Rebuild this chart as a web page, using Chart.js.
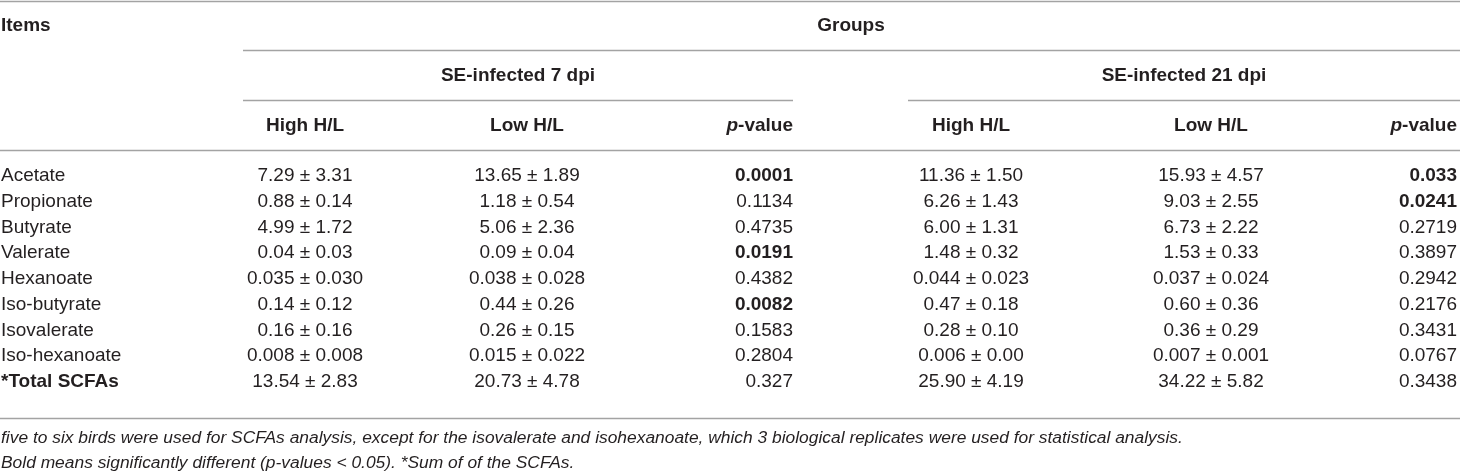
<!DOCTYPE html>
<html>
<head>
<meta charset="utf-8">
<script src="https://cdn.jsdelivr.net/npm/chart.js@4.4.1/dist/chart.umd.min.js"></script>
<style>
  html, body { margin: 0; padding: 0; background: #fff; }
  #wrap { width: 1460px; height: 476px; }
</style>
</head>
<body>
<div id="wrap"><canvas id="tbl" width="1460" height="476"></canvas></div>
<script>
// table content
var items = ['Acetate', 'Propionate', 'Butyrate', 'Valerate', 'Hexanoate', 'Iso-butyrate', 'Isovalerate', 'Iso-hexanoate', '*Total SCFAs'];
var high7 = ['7.29 ± 3.31', '0.88 ± 0.14', '4.99 ± 1.72', '0.04 ± 0.03', '0.035 ± 0.030', '0.14 ± 0.12', '0.16 ± 0.16', '0.008 ± 0.008', '13.54 ± 2.83'];
var low7 = ['13.65 ± 1.89', '1.18 ± 0.54', '5.06 ± 2.36', '0.09 ± 0.04', '0.038 ± 0.028', '0.44 ± 0.26', '0.26 ± 0.15', '0.015 ± 0.022', '20.73 ± 4.78'];
var p7 = ['0.0001', '0.1134', '0.4735', '0.0191', '0.4382', '0.0082', '0.1583', '0.2804', '0.327'];
var high21 = ['11.36 ± 1.50', '6.26 ± 1.43', '6.00 ± 1.31', '1.48 ± 0.32', '0.044 ± 0.023', '0.47 ± 0.18', '0.28 ± 0.10', '0.006 ± 0.00', '25.90 ± 4.19'];
var low21 = ['15.93 ± 4.57', '9.03 ± 2.55', '6.73 ± 2.22', '1.53 ± 0.33', '0.037 ± 0.024', '0.60 ± 0.36', '0.36 ± 0.29', '0.007 ± 0.001', '34.22 ± 5.82'];
var p21 = ['0.033', '0.0241', '0.2719', '0.3897', '0.2942', '0.2176', '0.3431', '0.0767', '0.3438'];
var boldP7 = [true, false, false, true, false, true, false, false, false];
var boldP21 = [true, true, false, false, false, false, false, false, false];
var groups = ['SE-infected 7 dpi', 'SE-infected 21 dpi'];
var colHeads = ['High H/L', 'Low H/L', 'p-value'];
var notes = [
  'five to six birds were used for SCFAs analysis, except for the isovalerate and isohexanoate, which 3 biological replicates were used for statistical analysis.',
  'Bold means significantly different (p-values < 0.05). *Sum of of the SCFAs.'
];

// layout, in scale units (x: 0..1460, y: 0..476 top-down)
var colX = [[305, 527, 793], [971, 1211, 1457]];
var groupSpan = [[243, 793], [908, 1460]];
var rowTop = 176, rowStep = 25.75;
var FONT = '"Liberation Sans", Arial, Helvetica, sans-serif';
var SIZE = 19;
var INK = '#231f20';
var RULE = '#a3a3a3';

var tablePlugin = {
  id: 'tablePlugin',
  afterDraw: function (chart) {
    var ctx = chart.ctx;
    var xs = chart.scales.x, ys = chart.scales.y;
    var X = function (v) { return xs.getPixelForValue(v); };
    var Y = function (v) { return ys.getPixelForValue(v); };

    function rule(x0, x1, y) {
      ctx.save();
      ctx.strokeStyle = RULE;
      ctx.lineWidth = 1.6;
      ctx.beginPath();
      ctx.moveTo(X(x0), Y(y));
      ctx.lineTo(X(x1), Y(y));
      ctx.stroke();
      ctx.restore();
    }
    function text(s, x, y, align, weight, style, size) {
      ctx.save();
      ctx.fillStyle = INK;
      ctx.font = (style || '') + ' ' + (weight || 'normal') + ' ' + (size || SIZE) + 'px ' + FONT;
      ctx.textAlign = align || 'left';
      ctx.textBaseline = 'middle';
      ctx.fillText(s, X(x), Y(y));
      ctx.restore();
    }
    // "p-value" header: italic p then bold -value, right aligned
    function pHead(xRight, y) {
      ctx.save();
      ctx.fillStyle = INK;
      ctx.textBaseline = 'middle';
      ctx.font = 'bold ' + SIZE + 'px ' + FONT;
      var rest = colHeads[2].slice(1);
      var wr = ctx.measureText(rest).width;
      ctx.font = 'italic bold ' + SIZE + 'px ' + FONT;
      var wp = ctx.measureText('p').width;
      var x0 = X(xRight) - wr - wp;
      ctx.fillText('p', x0, Y(y));
      ctx.font = 'bold ' + SIZE + 'px ' + FONT;
      ctx.fillText(rest, x0 + wp, Y(y));
      ctx.restore();
    }

    // rules
    rule(0, 1460, 1.5);
    rule(groupSpan[0][0], 1460, 50.5);
    rule(groupSpan[0][0], groupSpan[0][1], 100.5);
    rule(groupSpan[1][0], groupSpan[1][1], 100.5);
    rule(0, 1460, 150.5);
    rule(0, 1460, 418.5);

    // header
    text('Items', 1, 26, 'left', 'bold');
    text('Groups', 851, 26, 'center', 'bold');
    for (var g = 0; g < 2; g++) {
      text(groups[g], (groupSpan[g][0] + groupSpan[g][1]) / 2, 76, 'center', 'bold');
      text(colHeads[0], colX[g][0], 126, 'center', 'bold');
      text(colHeads[1], colX[g][1], 126, 'center', 'bold');
      pHead(colX[g][2], 126);
    }

    // body
    for (var i = 0; i < items.length; i++) {
      var y = rowTop + i * rowStep;
      var last = i === items.length - 1;
      text(items[i], 1, y, 'left', last ? 'bold' : 'normal');
      text(high7[i], colX[0][0], y, 'center');
      text(low7[i], colX[0][1], y, 'center');
      text(p7[i], colX[0][2], y, 'right', boldP7[i] ? 'bold' : 'normal');
      text(high21[i], colX[1][0], y, 'center');
      text(low21[i], colX[1][1], y, 'center');
      text(p21[i], colX[1][2], y, 'right', boldP21[i] ? 'bold' : 'normal');
    }

    // footnotes
    text(notes[0], 1, 438, 'left', 'normal', 'italic', 17.4);
    text(notes[1], 1, 463, 'left', 'normal', 'italic', 17.4);
  }
};

new Chart(document.getElementById('tbl'), {
  type: 'scatter',
  data: { datasets: [{ data: [], pointRadius: 0 }] },
  options: {
    responsive: false,
    animation: false,
    devicePixelRatio: 1,
    layout: { padding: 0 },
    plugins: { legend: { display: false }, tooltip: { enabled: false } },
    scales: {
      x: { type: 'linear', min: 0, max: 1460, display: false },
      y: { type: 'linear', min: 0, max: 476, reverse: true, display: false }
    }
  },
  plugins: [tablePlugin]
});
</script>
</body>
</html>
